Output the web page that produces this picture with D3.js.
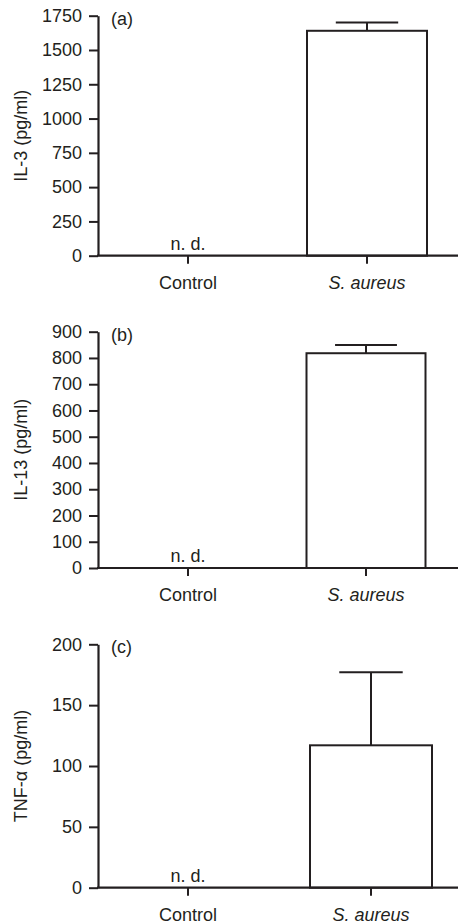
<!DOCTYPE html>
<html>
<head>
<meta charset="utf-8">
<script src="https://cdn.jsdelivr.net/npm/d3@7"></script>
<style>
  body { margin: 0; background: #fff; }
  svg text { font-family: "Liberation Sans", Arial, sans-serif; fill: #231f20; }
</style>
</head>
<body>
<svg id="chart" width="458" height="924"></svg>
<script>
const categories = ['Control', 'S. aureus'];

// n.d. = not detected -> null
const il3Values = [null, 1640];
const il3Errors = [0, 60];
const il3Ticks = [0, 250, 500, 750, 1000, 1250, 1500, 1750];

const il13Values = [null, 818];
const il13Errors = [0, 31];
const il13Ticks = [0, 100, 200, 300, 400, 500, 600, 700, 800, 900];

const tnfValues = [null, 117];
const tnfErrors = [0, 60];
const tnfTicks = [0, 50, 100, 150, 200];

const ink = '#231f20';
const fontSize = '18px';
const svg = d3.select('#chart');
const axisX = 98;

const panels = [
  { tag: '(a)', title: 'IL-3 (pg/ml)', values: il3Values, errors: il3Errors, ticks: il3Ticks,
    max: 1750, top: 15.7, bottom: 255.7, step: 179, barW: 120 },
  { tag: '(b)', title: 'IL-13 (pg/ml)', values: il13Values, errors: il13Errors, ticks: il13Ticks,
    max: 900, top: 331.7, bottom: 568, step: 178, barW: 119 },
  { tag: '(c)', title: 'TNF-\u03b1 (pg/ml)', values: tnfValues, errors: tnfErrors, ticks: tnfTicks,
    max: 200, top: 644.3, bottom: 887.7, step: 183, barW: 122 }
];

function drawPanel(p) {
  const g = svg.append('g');
  const y = d3.scaleLinear().domain([0, p.max]).range([p.bottom, p.top]);

  // band scale set up so Control sits at x=188
  const pi = 1 - p.barW / p.step;
  const po = (188 - axisX - p.barW / 2) / p.step;
  const x = d3.scaleBand()
    .domain(categories)
    .range([axisX, axisX + p.step * (2 - pi + 2 * po)])
    .paddingInner(pi)
    .paddingOuter(po);

  // bars
  categories.forEach((c, i) => {
    const v = p.values[i];
    if (v === null) {
      g.append('text')
        .attr('x', x(c) + x.bandwidth() / 2)
        .attr('y', y(0) - 6)
        .attr('text-anchor', 'middle')
        .style('font-size', fontSize)
        .text('n. d.');
      return;
    }
    const cx = x(c) + x.bandwidth() / 2;
    const capW = x.bandwidth() * 0.52;
    g.append('line')
      .attr('x1', cx).attr('x2', cx)
      .attr('y1', y(v)).attr('y2', y(v + p.errors[i]))
      .attr('stroke', ink).attr('stroke-width', 2);
    g.append('line')
      .attr('x1', cx - capW / 2).attr('x2', cx + capW / 2)
      .attr('y1', y(v + p.errors[i])).attr('y2', y(v + p.errors[i]))
      .attr('stroke', ink).attr('stroke-width', 2);
    g.append('rect')
      .attr('x', x(c))
      .attr('y', y(v))
      .attr('width', x.bandwidth())
      .attr('height', y(0) - y(v))
      .attr('fill', '#fff')
      .attr('stroke', ink)
      .attr('stroke-width', 2);
  });

  // y axis
  const ya = g.append('g')
    .attr('transform', `translate(${axisX},0)`)
    .call(d3.axisLeft(y).tickValues(p.ticks).tickFormat(d3.format('d'))
      .tickSize(9).tickPadding(7).tickSizeOuter(0));
  ya.select('.domain').attr('stroke', ink).attr('stroke-width', 2.2);
  ya.selectAll('.tick line').attr('stroke', ink).attr('stroke-width', 2);
  ya.selectAll('.tick text')
    .style('font-size', fontSize)
    .attr('fill', ink);
  ya.attr('font-family', null).attr('font-size', null);

  // x axis line to the right edge
  g.append('line')
    .attr('x1', axisX - 1).attr('x2', 458)
    .attr('y1', y(0)).attr('y2', y(0))
    .attr('stroke', ink).attr('stroke-width', 2.2);
  categories.forEach(c => {
    const cx = x(c) + x.bandwidth() / 2;
    g.append('line')
      .attr('x1', cx).attr('x2', cx)
      .attr('y1', y(0)).attr('y2', y(0) + 8)
      .attr('stroke', ink).attr('stroke-width', 2);
    g.append('text')
      .attr('x', cx)
      .attr('y', y(0) + 33)
      .attr('text-anchor', 'middle')
      .style('font-size', fontSize)
      .style('font-style', c === 'S. aureus' ? 'italic' : 'normal')
      .text(c);
  });

  // panel tag
  g.append('text')
    .attr('x', 111)
    .attr('y', p.top + 9)
    .style('font-size', fontSize)
    .text(p.tag);

  // y title
  g.append('text')
    .attr('transform', `translate(27,${(p.top + p.bottom) / 2}) rotate(-90)`)
    .attr('text-anchor', 'middle')
    .style('font-size', fontSize)
    .text(p.title);
}

panels.forEach(drawPanel);
</script>
</body>
</html>
